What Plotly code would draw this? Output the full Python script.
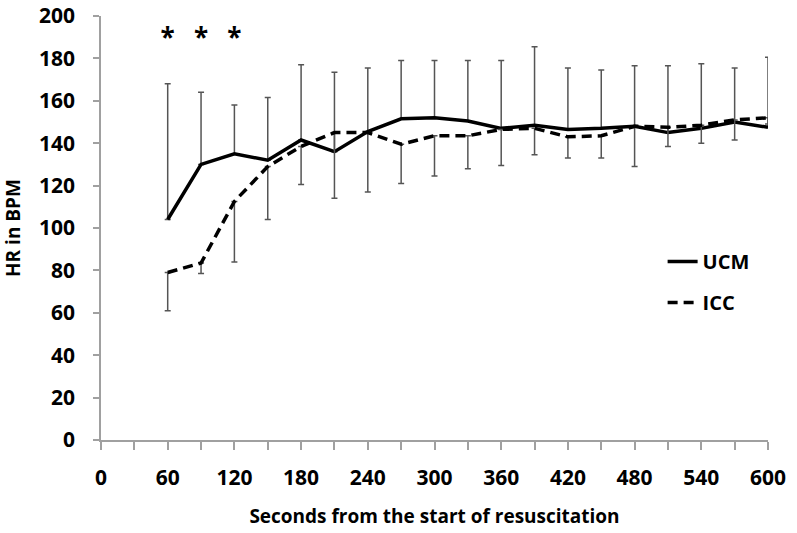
import plotly.graph_objects as go

seconds = [60, 90, 120, 150, 180, 210, 240, 270, 300, 330, 360, 390, 420, 450, 480, 510, 540, 570, 600]
ucm_hr = [104, 130, 135, 132, 141.5, 136, 145.5, 151.5, 152, 150.5, 147, 148.5, 146.5, 147, 148, 145, 147, 150, 147.5]
ucm_sd = [64, 34, 23, 29.5, 35.5, 37.5, 30, 27.5, 27, 28.5, 32, 37, 29, 27.5, 28.5, 31.5, 30.5, 25.5, 33]
icc_hr = [79, 83.5, 112.5, 129, 138.5, 145, 145, 139.5, 143.5, 143.5, 146.5, 147, 143, 143.5, 148, 147.5, 148.5, 151, 152]
icc_sd = [18, 5, 28.5, 25, 18, 31, 28, 18.5, 19, 15.5, 17, 12.5, 10, 10.5, 19, 9, 8.5, 9.5, 3]
sig_seconds = [60, 90, 120]
sig_level = 188.5
x_tick_vals = list(range(0, 601, 30))
x_tick_text = [str(v) if v % 60 == 0 else "" for v in x_tick_vals]
y_tick_vals = list(range(0, 201, 20))

FONT = "Open Sans"
zeros = [0] * len(seconds)

fig = go.Figure()
fig.add_trace(go.Scatter(
    x=seconds, y=ucm_hr, mode="lines", name="UCM", legendgroup="a",
    line=dict(color="black", width=3.5),
    error_y=dict(type="data", symmetric=False, array=ucm_sd, arrayminus=zeros,
                 color="#555555", thickness=1.5, width=3),
))
fig.add_trace(go.Scatter(
    x=seconds, y=icc_hr, mode="lines", name="ICC", legendgroup="b",
    line=dict(color="black", width=3.5, dash="10px,6px"),
    error_y=dict(type="data", symmetric=False, array=zeros, arrayminus=icc_sd,
                 color="#555555", thickness=1.5, width=3),
))
fig.add_trace(go.Scatter(
    x=sig_seconds, y=[sig_level] * len(sig_seconds), mode="text",
    text=["*"] * len(sig_seconds), textposition="middle center",
    textfont=dict(family=FONT, size=26, color="black", weight="bold"),
    showlegend=False, hoverinfo="skip",
))

axis_common = dict(showline=True, linecolor="#a0a0a0", linewidth=1.5,
                   ticks="outside", tickcolor="#a0a0a0", tickwidth=1.5,
                   showgrid=False, zeroline=False, automargin=False)

fig.update_layout(
    width=797, height=533,
    margin=dict(l=101, r=29, t=16, b=93),
    paper_bgcolor="white", plot_bgcolor="white",
    font=dict(family=FONT, size=20, color="black"),
    showlegend=True,
    legend=dict(x=0.842, y=0.467, xanchor="left", yanchor="top",
                font=dict(family=FONT, size=20, color="black", weight="bold"),
                tracegroupgap=12, itemwidth=30, bgcolor="rgba(0,0,0,0)"),
    xaxis=dict(range=[0, 600], tickvals=x_tick_vals, ticktext=x_tick_text, ticklen=8,
               ticklabelstandoff=10,
               tickfont=dict(family=FONT, size=21, color="black", weight="bold"),
               title=dict(text="Seconds from the start of resuscitation", standoff=20,
                          font=dict(family=FONT, size=19, color="black", weight="bold")),
               **axis_common),
    yaxis=dict(range=[0, 200], tickvals=y_tick_vals, ticklen=6,
               ticklabelstandoff=14,
               tickfont=dict(family=FONT, size=21, color="black", weight="bold"),
               title=dict(text="HR in BPM", standoff=16,
                          font=dict(family=FONT, size=19, color="black", weight="bold")),
               **axis_common),
)

fig.write_html("out.html", config={"displayModeBar": False},
               post_script="document.body.style.margin='0';document.body.style.overflow='hidden';")
